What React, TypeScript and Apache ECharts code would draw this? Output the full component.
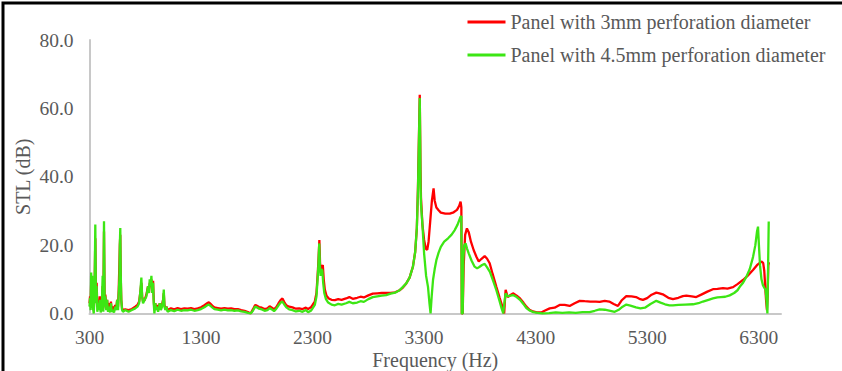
import React, { useEffect, useRef } from "react";
import * as echarts from "echarts";

const FONT = "Liberation Serif";
const TEXT_COLOR = "#595959";

const seriesNames = [
  "Panel with 3mm perforation diameter",
  "Panel with 4.5mm perforation diameter",
];

const xTicks = [300, 1300, 2300, 3300, 4300, 5300, 6300];
const yTicks = [0, 20, 40, 60, 80];

// Panel with 3mm perforation diameter: [frequency Hz, STL dB]
const red3mm: number[][] = [
  [300, 3], [305, 5], [310, 2], [315, 9], [320, 4], [325, 9], [330, 3], [338, 1], [345, 6], [352, 22],
  [358, 5], [364, 9], [370, 2], [378, 4], [385, 2], [392, 5], [400, 1], [410, 3], [418, 8], [424, 1.5],
  [430, 24], [436, 3], [442, 5.5], [450, 2], [458, 4], [466, 1.5], [475, 3], [484, 1], [492, 3.5], [500, 1],
  [510, 2], [520, 1], [530, 2.5], [540, 1.5], [548, 4], [556, 2], [562, 7], [568, 14.5], [572, 20], [576, 23],
  [580, 11], [585, 4], [592, 1.5], [600, 1], [620, 1.2], [650, 1], [680, 1.3], [710, 2], [730, 2.5], [745, 3.5],
  [755, 6], [765, 9], [772, 5], [780, 3.5], [795, 4], [810, 5.5], [825, 8], [833, 6], [840, 9], [848, 8],
  [855, 10], [862, 7], [870, 9.6], [876, 4], [882, 1], [890, 3], [897, 1.5], [905, 2.5], [915, 1], [930, 3],
  [940, 1.5], [950, 2.5], [960, 4], [966, 6], [972, 2.5], [980, 1.5], [990, 2],
  [1000, 1], [1030, 1.5], [1060, 1.2], [1090, 1.6], [1120, 1.3], [1150, 1.5], [1180, 1.4], [1210, 1.6],
  [1240, 1.3], [1270, 1.5], [1300, 1.8], [1330, 2.4], [1355, 3.0], [1370, 3.3], [1385, 2.8], [1400, 2.3],
  [1420, 1.8], [1450, 1.6], [1480, 1.4], [1510, 1.6], [1540, 1.4], [1570, 1.5], [1600, 1.3], [1630, 1.3],
  [1660, 1.0], [1690, 0.8], [1720, 0.4], [1745, 0], [1765, 1.2], [1785, 2.5], [1800, 2.3], [1820, 1.9],
  [1845, 1.7], [1870, 1.3], [1895, 1.5], [1915, 2.1], [1935, 1.7], [1955, 1.2], [1975, 1.9], [1995, 3.0],
  [2015, 4.0], [2030, 4.4], [2045, 3.4], [2065, 2.4], [2090, 2.0], [2120, 1.8], [2150, 1.4], [2180, 1.5],
  [2210, 1.3], [2240, 1.7], [2260, 1.3], [2285, 1.8], [2300, 2.5], [2320, 3.5], [2335, 6], [2345, 11],
  [2352, 15], [2361, 21.5], [2367, 15], [2373, 12], [2382, 13.5], [2392, 14.2], [2400, 10], [2410, 7],
  [2425, 5.2], [2445, 4.4], [2470, 4.0], [2500, 3.9], [2530, 4.2], [2560, 4.0], [2600, 4.4], [2630, 4.8],
  [2660, 4.3], [2700, 4.6], [2730, 4.9], [2760, 4.7], [2800, 5.3], [2840, 5.8], [2880, 5.9], [2920, 6.0],
  [2960, 6.0], [3000, 6.0], [3040, 6.2], [3080, 6.8], [3110, 7.6], [3140, 8.8], [3170, 10.5], [3200, 13.7],
  [3220, 18], [3235, 25], [3245, 37], [3252, 49], [3258, 59], [3261, 64], [3265, 52], [3268, 42],
  [3272, 34], [3285, 26], [3300, 21.5], [3315, 19], [3328, 18.6], [3340, 21], [3355, 27], [3370, 33],
  [3385, 36.6], [3395, 33], [3410, 31], [3430, 30.2], [3450, 29.5], [3490, 29.2], [3530, 29.2], [3565, 29.6],
  [3595, 30.3], [3615, 31.5], [3627, 32.7], [3634, 31], [3638, 0], [3646, 0], [3655, 14], [3668, 23],
  [3684, 24.9], [3700, 23.8], [3720, 21], [3745, 18.5], [3769, 16.6], [3790, 15.2], [3815, 16], [3843, 16.8],
  [3865, 16], [3888, 14.7], [3915, 11.5], [3948, 7.8], [3978, 4.5], [4007, 1.5], [4018, 0], [4025, 4],
  [4031, 6.9], [4050, 4.8], [4075, 5.4], [4097, 5.9], [4130, 5.2], [4160, 4.4], [4190, 3.2], [4217, 2.0],
  [4245, 1.1], [4276, 0.6], [4310, 0.3], [4350, 0.3], [4380, 0.8], [4426, 1.5], [4470, 1.7], [4515, 2.5],
  [4560, 2.5], [4605, 2.2], [4650, 3.0], [4695, 3.7], [4740, 3.6], [4790, 3.5], [4840, 3.5], [4874, 3.4],
  [4920, 3.7], [4960, 3.5], [5000, 2.8], [5038, 2.2], [5070, 3.8], [5113, 5.1], [5160, 5.0], [5200, 4.8],
  [5230, 4.3], [5262, 4.0], [5300, 4.5], [5340, 5.5], [5382, 6.1], [5410, 5.9], [5440, 5.6], [5490, 4.6],
  [5531, 4.2], [5580, 4.6], [5620, 5.1], [5651, 5.2], [5700, 5.0], [5740, 4.8], [5790, 5.6], [5840, 6.4],
  [5890, 7.1], [5930, 7.2], [5980, 7.4], [6020, 7.3], [6070, 7.7], [6110, 8.6], [6159, 9.8], [6200, 11.0],
  [6249, 12.7], [6290, 14.3], [6324, 15.2], [6340, 14.8], [6350, 12.5], [6358, 8], [6366, 4], [6374, 1],
  [6380, 5], [6386, 14], [6392, 15],
];

// Panel with 4.5mm perforation diameter: [frequency Hz, STL dB]
const green45mm: number[][] = [
  [300, 2], [305, 4.5], [310, 1], [315, 12], [320, 5], [325, 11], [330, 2], [338, 0], [345, 5], [352, 26],
  [358, 3], [364, 8], [370, 0.5], [378, 3], [385, 1], [392, 4], [400, 0.3], [410, 2], [418, 11], [424, 0.5],
  [430, 27], [436, 2], [442, 5], [450, 1], [458, 4], [466, 0.5], [475, 2], [484, 0.3], [492, 3], [500, 0.5],
  [510, 1], [520, 0.3], [530, 2], [540, 1], [548, 4], [556, 1], [562, 6], [568, 10], [572, 20], [576, 25],
  [580, 12], [585, 4], [592, 1], [600, 0.5], [620, 1], [650, 0.5], [680, 1], [710, 1.5], [730, 2], [745, 3],
  [755, 6], [765, 10.5], [772, 5], [780, 3], [795, 4], [810, 5], [825, 8], [833, 6], [840, 10], [848, 8],
  [855, 11], [862, 6], [870, 9], [876, 3], [882, 0], [890, 3], [897, 1], [905, 2], [915, 0.5], [930, 3],
  [940, 1], [950, 2], [960, 4], [966, 7], [972, 2], [980, 1], [990, 2],
  [1000, 0.5], [1030, 1.0], [1060, 0.7], [1090, 1.1], [1120, 0.8], [1150, 1.0], [1180, 0.9], [1210, 1.1],
  [1240, 0.8], [1270, 1.0], [1300, 1.3], [1330, 1.8], [1355, 2.4], [1370, 2.6], [1385, 2.2], [1400, 1.8],
  [1420, 1.3], [1450, 1.1], [1480, 0.9], [1510, 1.1], [1540, 0.9], [1570, 1.0], [1600, 0.8], [1630, 0.9],
  [1660, 0.6], [1690, 0.5], [1720, 0.2], [1745, 0], [1765, 0.8], [1785, 2.0], [1800, 1.8], [1820, 1.4],
  [1845, 1.2], [1870, 0.8], [1895, 1.0], [1915, 1.6], [1935, 1.2], [1955, 0.7], [1975, 1.4], [1995, 2.4],
  [2015, 3.2], [2030, 3.5], [2045, 2.7], [2065, 1.8], [2090, 1.2], [2120, 1.0], [2150, 0.6], [2180, 0.8],
  [2210, 0.5], [2240, 1.0], [2260, 0.4], [2285, 0.8], [2300, 1.5], [2320, 2.5], [2335, 5], [2345, 10],
  [2352, 14], [2360, 20.5], [2366, 14], [2372, 11], [2380, 13], [2388, 12.5], [2395, 9], [2405, 6],
  [2420, 4.2], [2440, 3.2], [2470, 2.6], [2500, 2.4], [2530, 2.8], [2560, 2.6], [2600, 3.0], [2630, 3.4],
  [2660, 3.0], [2700, 3.2], [2730, 3.6], [2760, 3.4], [2800, 4.2], [2840, 4.8], [2880, 5.0], [2920, 5.2],
  [2960, 5.4], [3000, 5.8], [3040, 6.1], [3080, 6.8], [3110, 7.8], [3140, 8.8], [3170, 10.5], [3200, 13.7],
  [3220, 18], [3235, 25], [3245, 36], [3252, 48], [3258, 58], [3261, 63], [3265, 50], [3268, 38],
  [3272, 32], [3285, 26], [3300, 17.6], [3318, 11], [3335, 7.8], [3348, 3], [3358, 0], [3368, 5],
  [3380, 9.8], [3395, 13], [3410, 15.6], [3430, 17.8], [3450, 19.5], [3480, 21], [3515, 22], [3545, 23],
  [3575, 24.4], [3600, 26], [3627, 28.3], [3634, 28.5], [3638, 0], [3646, 0], [3652, 16], [3660, 20],
  [3672, 20.5], [3685, 19], [3700, 17.6], [3725, 15.5], [3753, 13.7], [3775, 13.2], [3795, 13.6], [3820, 14.2],
  [3843, 14.5], [3865, 13.5], [3890, 12.2], [3920, 9.5], [3948, 6.8], [3975, 3.8], [3995, 1.5], [4010, 0],
  [4020, 3], [4031, 5.9], [4050, 5.0], [4075, 5.2], [4097, 5.4], [4130, 4.8], [4160, 4.0], [4190, 2.8],
  [4217, 1.6], [4250, 0.8], [4280, 0.4], [4320, 0.2], [4360, 0], [4420, 0.1], [4480, 0.3], [4540, 0.2],
  [4600, 0.3], [4660, 0.2], [4720, 0.4], [4784, 0.4], [4830, 0.8], [4874, 1.2], [4920, 1.1], [4970, 0.8],
  [5009, 0.5], [5050, 1.2], [5080, 2.0], [5113, 2.6], [5150, 2.3], [5200, 1.8], [5240, 1.5], [5280, 1.7],
  [5330, 2.8], [5382, 3.7], [5420, 3.2], [5460, 2.7], [5500, 2.4], [5531, 2.4], [5580, 2.5], [5640, 2.6],
  [5711, 2.7], [5760, 3.0], [5800, 3.5], [5850, 4.0], [5890, 4.4], [5930, 4.7], [5960, 4.8], [6000, 4.9],
  [6040, 5.3], [6080, 6.0], [6110, 6.8], [6130, 7.8], [6160, 9.0], [6189, 10.7], [6220, 13], [6249, 16.5],
  [6270, 20], [6285, 24], [6294, 25.4], [6302, 20], [6312, 14], [6325, 10], [6338, 8.3], [6350, 7.5],
  [6362, 7], [6370, 4], [6378, 0], [6384, 0], [6390, 26.9],
];

export default function App() {
  const ref = useRef<HTMLDivElement>(null);

  useEffect(() => {
    if (!ref.current) return;
    const chart = echarts.init(ref.current, undefined, { renderer: "svg" });
    chart.setOption({
      animation: false,
      backgroundColor: "#ffffff",
      textStyle: { fontFamily: FONT },
      grid: {
        left: 89.5,
        right: 61,
        top: 40,
        bottom: 57.5,
        containLabel: false,
        outerBoundsMode: "none",
      },
      legend: {
        orient: "vertical",
        left: 462.5,
        top: 7,
        itemWidth: 38,
        itemHeight: 3,
        itemGap: 13,
        icon: "rect",
        data: seriesNames,
        textStyle: {
          color: TEXT_COLOR,
          fontSize: 20,
          fontFamily: FONT,
          lineHeight: 20,
        },
      },
      xAxis: {
        type: "value",
        min: 300,
        max: 6500,
        name: "Frequency (Hz)",
        nameLocation: "middle",
        nameGap: 36,
        nameMoveOverlap: false,
        nameTextStyle: { color: TEXT_COLOR, fontSize: 20, fontFamily: FONT },
        axisLine: { show: true, onZero: false, lineStyle: { color: "#c8c8c8", width: 2 } },
        axisTick: { show: false },
        splitLine: { show: false },
        axisLabel: {
          customValues: xTicks,
          color: TEXT_COLOR,
          fontSize: 19.5,
          fontFamily: FONT,
          margin: 14,
          formatter: (v: number) => String(v),
        },
      },
      yAxis: {
        type: "value",
        min: yTicks[0],
        max: yTicks[yTicks.length - 1],
        interval: 20,
        name: "STL (dB)",
        nameLocation: "middle",
        nameGap: 57,
        nameRotate: 90,
        nameMoveOverlap: false,
        nameTextStyle: { color: TEXT_COLOR, fontSize: 20, fontFamily: FONT },
        axisLine: { show: true, lineStyle: { color: "#c8c8c8", width: 2 } },
        axisTick: { show: false },
        splitLine: { show: false },
        axisLabel: {
          color: TEXT_COLOR,
          fontSize: 19.5,
          fontFamily: FONT,
          margin: 16,
          formatter: (v: number) => v.toFixed(1),
        },
      },
      series: [
        {
          name: seriesNames[0],
          type: "line",
          data: red3mm,
          symbol: "none",
          color: "#ff0000",
          lineStyle: { color: "#ff0000", width: 2.3 },
        },
        {
          name: seriesNames[1],
          type: "line",
          data: green45mm,
          symbol: "none",
          color: "#3ce614",
          lineStyle: { color: "#3ce614", width: 2.3 },
        },
      ],
      graphic: [
        {
          type: "rect",
          silent: true,
          shape: { x: 3, y: 3, width: 900, height: 400 },
          style: { fill: "none", stroke: "#000000", lineWidth: 3 },
        },
      ],
    });
    return () => chart.dispose();
  }, []);

  return (
    <div
      ref={ref}
      style={{ position: "fixed", left: 0, top: 0, width: 842, height: 371 }}
    />
  );
}
